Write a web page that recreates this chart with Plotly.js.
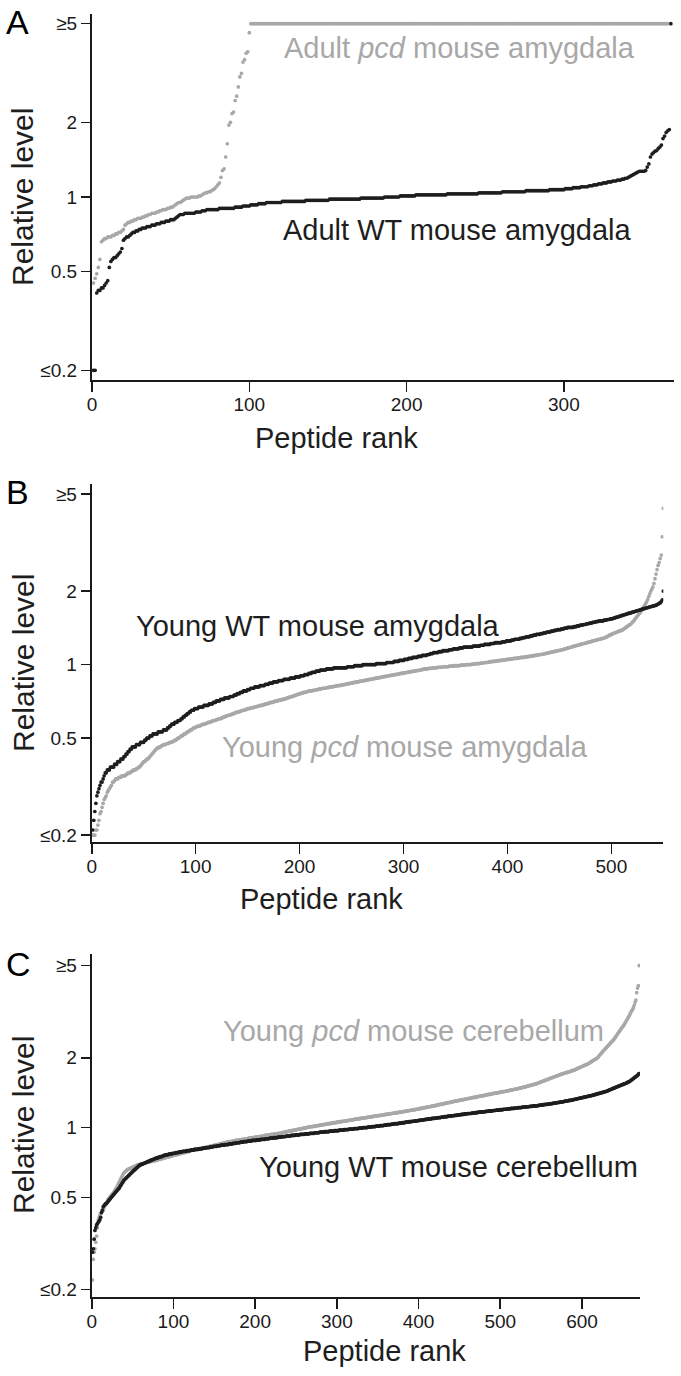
<!DOCTYPE html>
<html>
<head>
<meta charset="utf-8">
<script src="https://cdn.plot.ly/plotly-3.0.1.min.js"></script>
<style>html,body{margin:0;padding:0;background:#fff;}#chart{width:681px;height:1376px;}</style>
</head>
<body>
<div id="chart"></div>
<script>
// ---------- Panel A: adult amygdala (relative level, sorted by peptide rank) ----------
const adultWT = [
0.2,0.2,0.41,0.42,0.42,0.43,0.43,0.44,0.45,0.46,
0.52,0.55,0.56,0.57,0.57,0.58,0.59,0.60,0.62,0.67,
0.68,0.69,0.69,0.70,0.71,0.72,0.72,0.73,0.73,0.74,
0.74,0.75,0.75,0.75,0.76,0.76,0.76,0.77,0.77,0.77,
0.78,0.78,0.78,0.79,0.79,0.79,0.80,0.80,0.80,0.81,
0.81,0.81,0.82,0.83,0.84,0.85,0.85,0.85,0.86,0.86,
0.86,0.86,0.86,0.86,0.86,0.87,0.87,0.87,0.87,0.88,
0.88,0.88,0.89,0.89,0.89,0.89,0.89,0.89,0.89,0.89,
0.90,0.90,0.90,0.90,0.90,0.90,0.90,0.90,0.90,0.90,
0.91,0.91,0.91,0.91,0.91,0.92,0.92,0.92,0.92,0.92,
0.93,0.93,0.93,0.93,0.93,0.94,0.94,0.94,0.94,0.94,
0.95,0.95,0.95,0.95,0.95,0.95,0.95,0.95,0.95,0.95,
0.96,0.96,0.96,0.96,0.96,0.96,0.96,0.96,0.96,0.96,
0.96,0.96,0.96,0.96,0.96,0.97,0.97,0.97,0.97,0.97,
0.97,0.97,0.97,0.97,0.97,0.97,0.97,0.97,0.97,0.97,
0.98,0.98,0.98,0.98,0.98,0.98,0.98,0.98,0.98,0.98,
0.98,0.98,0.98,0.98,0.98,0.98,0.98,0.98,0.98,0.98,
0.99,0.99,0.99,0.99,0.99,0.99,0.99,0.99,0.99,0.99,
0.99,0.99,0.99,0.99,0.99,1.00,1.00,1.00,1.00,1.00,
1.00,1.00,1.00,1.00,1.00,1.01,1.01,1.01,1.01,1.01,
1.01,1.01,1.01,1.01,1.01,1.02,1.02,1.02,1.02,1.02,
1.02,1.02,1.02,1.02,1.02,1.02,1.02,1.02,1.02,1.02,
1.02,1.02,1.02,1.02,1.02,1.03,1.03,1.03,1.03,1.03,
1.03,1.03,1.03,1.03,1.03,1.03,1.03,1.03,1.03,1.03,
1.03,1.03,1.03,1.03,1.03,1.04,1.04,1.04,1.04,1.04,
1.04,1.04,1.04,1.04,1.04,1.04,1.04,1.04,1.04,1.04,
1.05,1.05,1.05,1.05,1.05,1.05,1.05,1.05,1.05,1.05,
1.05,1.05,1.05,1.05,1.05,1.06,1.06,1.06,1.06,1.06,
1.06,1.06,1.06,1.06,1.06,1.06,1.06,1.06,1.06,1.06,
1.07,1.07,1.07,1.07,1.07,1.07,1.07,1.07,1.07,1.07,
1.08,1.08,1.08,1.08,1.08,1.09,1.09,1.09,1.09,1.09,
1.10,1.10,1.10,1.10,1.10,1.11,1.11,1.11,1.12,1.12,
1.12,1.13,1.13,1.13,1.14,1.14,1.14,1.15,1.15,1.15,
1.16,1.16,1.16,1.17,1.17,1.17,1.18,1.18,1.19,1.19,
1.20,1.21,1.22,1.23,1.24,1.25,1.26,1.27,1.27,1.27,
1.27,1.28,1.32,1.36,1.45,1.49,1.51,1.53,1.54,1.57,
1.59,1.62,1.72,1.76,1.82,1.85,1.87,5
];
const adultPcd = [
0.45,0.47,0.49,0.52,0.56,0.66,0.67,0.68,0.68,0.69,
0.69,0.69,0.70,0.70,0.71,0.71,0.72,0.72,0.73,0.74,
0.77,0.78,0.79,0.79,0.80,0.80,0.81,0.81,0.82,0.82,
0.82,0.83,0.83,0.84,0.84,0.85,0.85,0.86,0.86,0.86,
0.87,0.87,0.88,0.88,0.89,0.89,0.89,0.90,0.90,0.91,
0.91,0.92,0.93,0.94,0.95,0.95,0.96,0.97,0.98,0.99,
0.99,0.99,1.00,1.00,1.00,1.00,1.00,1.01,1.01,1.02,
1.03,1.04,1.04,1.05,1.05,1.06,1.07,1.08,1.10,1.12,
1.14,1.20,1.28,1.30,1.45,1.64,1.95,2.00,2.17,2.20,
2.45,2.55,2.78,3.05,3.15,3.50,3.58,3.80,3.85,4.60,
5,5,5,5,5,5,5,5,5,5, 5,5,5,5,5,5,5,5,5,5, 5,5,5,5,5,5,5,5,5,5,
5,5,5,5,5,5,5,5,5,5, 5,5,5,5,5,5,5,5,5,5, 5,5,5,5,5,5,5,5,5,5,
5,5,5,5,5,5,5,5,5,5, 5,5,5,5,5,5,5,5,5,5, 5,5,5,5,5,5,5,5,5,5,
5,5,5,5,5,5,5,5,5,5, 5,5,5,5,5,5,5,5,5,5, 5,5,5,5,5,5,5,5,5,5,
5,5,5,5,5,5,5,5,5,5, 5,5,5,5,5,5,5,5,5,5, 5,5,5,5,5,5,5,5,5,5,
5,5,5,5,5,5,5,5,5,5, 5,5,5,5,5,5,5,5,5,5, 5,5,5,5,5,5,5,5,5,5,
5,5,5,5,5,5,5,5,5,5, 5,5,5,5,5,5,5,5,5,5, 5,5,5,5,5,5,5,5,5,5,
5,5,5,5,5,5,5,5,5,5, 5,5,5,5,5,5,5,5,5,5, 5,5,5,5,5,5,5,5,5,5,
5,5,5,5,5,5,5,5,5,5, 5,5,5,5,5,5,5,5,5,5,
5,5,5,5,5,5
];

// ---------- Panel B: young amygdala ----------
const youngWTAmy = [
0.21,0.23,0.25,0.27,0.29,0.30,0.31,0.32,0.33,0.33,
0.34,0.35,0.36,0.36,0.37,0.37,0.37,0.38,0.38,0.38,
0.38,0.39,0.39,0.39,0.40,0.40,0.40,0.41,0.41,0.41,
0.42,0.42,0.43,0.43,0.44,0.44,0.45,0.45,0.46,0.46,
0.46,0.46,0.47,0.47,0.47,0.47,0.48,0.48,0.48,0.48,
0.49,0.49,0.50,0.50,0.50,0.51,0.51,0.51,0.52,0.52,
0.52,0.52,0.52,0.53,0.53,0.53,0.53,0.53,0.54,0.54,
0.54,0.54,0.55,0.55,0.56,0.56,0.57,0.57,0.57,0.58,
0.58,0.58,0.59,0.59,0.59,0.60,0.60,0.61,0.61,0.62,
0.62,0.63,0.63,0.64,0.64,0.65,0.65,0.65,0.66,0.66,
0.66,0.66,0.67,0.67,0.67,0.67,0.67,0.68,0.68,0.68,
0.68,0.68,0.69,0.69,0.69,0.69,0.70,0.70,0.70,0.71,
0.71,0.71,0.71,0.72,0.72,0.72,0.72,0.73,0.73,0.73,
0.73,0.73,0.74,0.74,0.74,0.74,0.75,0.75,0.75,0.76,
0.76,0.76,0.77,0.77,0.77,0.78,0.78,0.78,0.78,0.79,
0.79,0.79,0.80,0.80,0.80,0.80,0.81,0.81,0.81,0.81,
0.81,0.82,0.82,0.82,0.82,0.82,0.83,0.83,0.83,0.83,
0.84,0.84,0.84,0.84,0.85,0.85,0.85,0.85,0.85,0.86,
0.86,0.86,0.86,0.86,0.87,0.87,0.87,0.87,0.87,0.87,
0.88,0.88,0.88,0.88,0.88,0.89,0.89,0.89,0.89,0.89,
0.90,0.90,0.90,0.90,0.91,0.91,0.91,0.91,0.92,0.92,
0.92,0.93,0.93,0.93,0.93,0.94,0.94,0.94,0.94,0.95,
0.95,0.95,0.95,0.95,0.95,0.96,0.96,0.96,0.96,0.96,
0.96,0.96,0.97,0.97,0.97,0.97,0.97,0.97,0.97,0.97,
0.97,0.97,0.97,0.97,0.97,0.98,0.98,0.98,0.98,0.98,
0.98,0.98,0.99,0.99,0.99,0.99,0.99,0.99,0.99,0.99,
1.00,1.00,1.00,1.00,1.00,1.00,1.00,1.00,1.00,1.00,
1.00,1.00,1.00,1.01,1.01,1.01,1.01,1.01,1.01,1.01,
1.01,1.01,1.01,1.02,1.02,1.02,1.02,1.02,1.02,1.02,
1.03,1.03,1.03,1.03,1.03,1.04,1.04,1.04,1.04,1.04,
1.05,1.05,1.05,1.05,1.06,1.06,1.06,1.06,1.07,1.07,
1.07,1.07,1.07,1.08,1.08,1.08,1.08,1.09,1.09,1.09,
1.09,1.09,1.10,1.10,1.10,1.11,1.11,1.11,1.12,1.12,
1.12,1.12,1.12,1.13,1.13,1.13,1.13,1.14,1.14,1.14,
1.14,1.14,1.14,1.15,1.15,1.15,1.15,1.16,1.16,1.16,
1.16,1.16,1.16,1.17,1.17,1.17,1.17,1.18,1.18,1.18,
1.18,1.18,1.18,1.18,1.18,1.18,1.19,1.19,1.19,1.19,
1.19,1.19,1.19,1.20,1.20,1.20,1.20,1.21,1.21,1.21,
1.21,1.21,1.21,1.22,1.22,1.22,1.22,1.23,1.23,1.23,
1.23,1.23,1.23,1.23,1.24,1.24,1.24,1.24,1.25,1.25,
1.25,1.25,1.25,1.26,1.26,1.26,1.27,1.27,1.27,1.27,
1.27,1.28,1.28,1.28,1.29,1.29,1.29,1.30,1.30,1.30,
1.30,1.31,1.31,1.31,1.32,1.32,1.32,1.33,1.33,1.33,
1.33,1.34,1.34,1.34,1.35,1.35,1.35,1.36,1.36,1.36,
1.36,1.37,1.37,1.37,1.38,1.38,1.38,1.39,1.39,1.39,
1.39,1.40,1.40,1.40,1.41,1.41,1.41,1.42,1.42,1.42,
1.42,1.42,1.42,1.43,1.43,1.43,1.44,1.44,1.44,1.45,
1.45,1.45,1.46,1.46,1.46,1.47,1.47,1.47,1.48,1.48,
1.48,1.49,1.49,1.49,1.50,1.50,1.50,1.51,1.51,1.51,
1.51,1.51,1.52,1.52,1.52,1.53,1.53,1.53,1.54,1.54,
1.54,1.55,1.55,1.56,1.56,1.57,1.57,1.58,1.58,1.59,
1.59,1.60,1.60,1.61,1.61,1.62,1.62,1.63,1.63,1.64,
1.64,1.65,1.65,1.66,1.66,1.67,1.67,1.68,1.68,1.69,
1.69,1.70,1.70,1.71,1.71,1.72,1.72,1.73,1.73,1.74,
1.74,1.75,1.75,1.76,1.77,1.78,1.79,1.81,1.84,2.00
];
const youngPcdAmy = [
0.20,0.20,0.20,0.21,0.21,0.22,0.23,0.245,0.25,0.26,
0.27,0.28,0.285,0.29,0.30,0.305,0.31,0.315,0.32,0.33,
0.33,0.335,0.34,0.34,0.34,0.345,0.345,0.345,0.35,0.35,
0.35,0.35,0.355,0.355,0.36,0.36,0.36,0.365,0.365,0.37,
0.37,0.37,0.375,0.375,0.38,0.38,0.385,0.39,0.395,0.40,
0.40,0.405,0.41,0.41,0.415,0.42,0.425,0.43,0.435,0.44,
0.445,0.45,0.455,0.455,0.46,0.46,0.465,0.465,0.47,0.47,
0.47,0.475,0.475,0.475,0.48,0.48,0.48,0.485,0.485,0.49,
0.49,0.495,0.50,0.50,0.505,0.51,0.51,0.515,0.52,0.52,
0.525,0.53,0.53,0.535,0.54,0.54,0.545,0.55,0.55,0.555,
0.555,0.56,0.56,0.56,0.565,0.565,0.57,0.57,0.57,0.575,
0.575,0.58,0.58,0.58,0.585,0.585,0.59,0.59,0.59,0.595,
0.595,0.60,0.60,0.60,0.605,0.605,0.61,0.61,0.615,0.615,
0.62,0.62,0.62,0.625,0.625,0.63,0.63,0.635,0.635,0.64,
0.64,0.64,0.645,0.645,0.65,0.65,0.65,0.655,0.655,0.66,
0.66,0.66,0.665,0.665,0.665,0.67,0.67,0.67,0.675,0.675,
0.675,0.68,0.68,0.68,0.685,0.685,0.69,0.69,0.69,0.695,
0.695,0.70,0.70,0.70,0.705,0.705,0.71,0.71,0.71,0.715,
0.715,0.715,0.72,0.72,0.72,0.725,0.725,0.73,0.73,0.735,
0.735,0.74,0.74,0.745,0.745,0.75,0.75,0.755,0.755,0.76,
0.76,0.765,0.765,0.77,0.77,0.77,0.775,0.775,0.78,0.78,
0.78,0.78,0.785,0.785,0.785,0.79,0.79,0.79,0.795,0.795,
0.795,0.80,0.80,0.80,0.80,0.805,0.805,0.805,0.81,0.81,
0.81,0.81,0.815,0.815,0.815,0.82,0.82,0.82,0.82,0.825,
0.825,0.825,0.83,0.83,0.83,0.835,0.835,0.835,0.84,0.84,
0.84,0.845,0.845,0.845,0.85,0.85,0.85,0.855,0.855,0.855,
0.86,0.86,0.86,0.865,0.865,0.865,0.87,0.87,0.87,0.875,
0.875,0.875,0.88,0.88,0.88,0.885,0.885,0.885,0.89,0.89,
0.89,0.895,0.895,0.895,0.90,0.90,0.90,0.905,0.905,0.905,
0.91,0.91,0.91,0.915,0.915,0.915,0.92,0.92,0.92,0.925,
0.925,0.925,0.93,0.93,0.93,0.935,0.935,0.935,0.94,0.94,
0.94,0.945,0.945,0.945,0.95,0.95,0.95,0.955,0.955,0.96,
0.96,0.96,0.96,0.965,0.965,0.965,0.965,0.97,0.97,0.97,
0.97,0.97,0.975,0.975,0.975,0.975,0.975,0.98,0.98,0.98,
0.98,0.98,0.98,0.985,0.985,0.985,0.985,0.985,0.99,0.99,
0.99,0.99,0.99,0.99,0.995,0.995,0.995,0.995,0.995,1.00,
1.00,1.00,1.00,1.00,1.00,1.005,1.005,1.005,1.005,1.01,
1.01,1.01,1.01,1.015,1.015,1.015,1.015,1.02,1.02,1.02,
1.02,1.025,1.025,1.025,1.03,1.03,1.03,1.03,1.035,1.035,
1.035,1.04,1.04,1.04,1.04,1.045,1.045,1.045,1.05,1.05,
1.05,1.05,1.055,1.055,1.055,1.06,1.06,1.06,1.06,1.065,
1.065,1.065,1.07,1.07,1.07,1.07,1.075,1.075,1.075,1.08,
1.08,1.08,1.085,1.085,1.085,1.09,1.09,1.09,1.095,1.095,
1.10,1.10,1.10,1.105,1.105,1.11,1.11,1.115,1.115,1.12,
1.12,1.125,1.125,1.13,1.13,1.135,1.135,1.14,1.14,1.145,
1.145,1.15,1.15,1.155,1.16,1.16,1.165,1.17,1.17,1.175,
1.18,1.18,1.185,1.19,1.19,1.195,1.20,1.20,1.205,1.21,
1.21,1.215,1.22,1.22,1.225,1.23,1.23,1.235,1.24,1.24,
1.245,1.25,1.25,1.255,1.26,1.26,1.265,1.27,1.27,1.275,
1.28,1.28,1.285,1.29,1.30,1.30,1.31,1.32,1.32,1.33,
1.34,1.34,1.35,1.35,1.36,1.36,1.37,1.37,1.38,1.38,
1.39,1.40,1.41,1.42,1.43,1.44,1.45,1.46,1.47,1.49,
1.50,1.52,1.54,1.56,1.58,1.60,1.62,1.64,1.66,1.69,
1.72,1.75,1.78,1.81,1.85,1.90,1.95,2.00,2.04,2.08,
2.15,2.25,2.35,2.45,2.55,2.62,2.72,2.81,3.34,4.37
];

// ---------- Panel C: young cerebellum ----------
const youngWTCb = [
0.29,0.30,0.33,0.36,0.37,0.38,0.385,0.39,0.395,0.40,
0.41,0.43,0.44,0.455,0.46,0.465,0.47,0.47,0.475,0.48,
0.485,0.49,0.495,0.50,0.505,0.51,0.515,0.52,0.525,0.53,
0.535,0.54,0.545,0.55,0.56,0.565,0.575,0.58,0.59,0.595,
0.60,0.605,0.61,0.615,0.62,0.625,0.63,0.635,0.64,0.645,
0.65,0.655,0.66,0.665,0.67,0.675,0.68,0.685,0.69,0.69,
0.695,0.695,0.70,0.70,0.705,0.705,0.71,0.71,0.715,0.715,
0.72,0.72,0.725,0.725,0.73,0.73,0.735,0.735,0.74,0.74,
0.74,0.745,0.745,0.75,0.75,0.75,0.755,0.755,0.76,0.76,
0.76,0.765,0.765,0.765,0.77,0.77,0.77,0.77,0.775,0.775,
0.775,0.775,0.78,0.78,0.78,0.78,0.785,0.785,0.785,0.785,
0.79,0.79,0.79,0.79,0.79,0.795,0.795,0.795,0.795,0.795,
0.80,0.80,0.80,0.80,0.80,0.805,0.805,0.805,0.805,0.805,
0.81,0.81,0.81,0.81,0.81,0.815,0.815,0.815,0.815,0.82,
0.82,0.82,0.82,0.82,0.825,0.825,0.825,0.825,0.83,0.83,
0.83,0.83,0.83,0.835,0.835,0.835,0.835,0.84,0.84,0.84,
0.84,0.84,0.845,0.845,0.845,0.845,0.845,0.85,0.85,0.85,
0.85,0.85,0.855,0.855,0.855,0.855,0.86,0.86,0.86,0.86,
0.86,0.865,0.865,0.865,0.865,0.87,0.87,0.87,0.87,0.87,
0.875,0.875,0.875,0.875,0.875,0.88,0.88,0.88,0.88,0.88,
0.88,0.885,0.885,0.885,0.885,0.885,0.89,0.89,0.89,0.89,
0.89,0.89,0.895,0.895,0.895,0.895,0.895,0.90,0.90,0.90,
0.90,0.90,0.905,0.905,0.905,0.905,0.905,0.91,0.91,0.91,
0.91,0.91,0.915,0.915,0.915,0.915,0.915,0.92,0.92,0.92,
0.92,0.92,0.92,0.925,0.925,0.925,0.925,0.925,0.93,0.93,
0.93,0.93,0.93,0.93,0.935,0.935,0.935,0.935,0.935,0.935,
0.94,0.94,0.94,0.94,0.94,0.94,0.945,0.945,0.945,0.945,
0.945,0.945,0.95,0.95,0.95,0.95,0.95,0.95,0.955,0.955,
0.955,0.955,0.955,0.955,0.96,0.96,0.96,0.96,0.96,0.96,
0.965,0.965,0.965,0.965,0.965,0.965,0.97,0.97,0.97,0.97,
0.97,0.97,0.975,0.975,0.975,0.975,0.975,0.975,0.98,0.98,
0.98,0.98,0.98,0.98,0.985,0.985,0.985,0.985,0.985,0.985,
0.99,0.99,0.99,0.99,0.99,0.99,0.995,0.995,0.995,0.995,
0.995,1.00,1.00,1.00,1.00,1.00,1.00,1.005,1.005,1.005,
1.005,1.005,1.01,1.01,1.01,1.01,1.01,1.015,1.015,1.015,
1.015,1.015,1.02,1.02,1.02,1.02,1.02,1.025,1.025,1.025,
1.025,1.03,1.03,1.03,1.03,1.03,1.035,1.035,1.035,1.035,
1.04,1.04,1.04,1.04,1.04,1.045,1.045,1.045,1.045,1.05,
1.05,1.05,1.05,1.055,1.055,1.055,1.055,1.06,1.06,1.06,
1.06,1.065,1.065,1.065,1.065,1.07,1.07,1.07,1.07,1.075,
1.075,1.075,1.075,1.08,1.08,1.08,1.08,1.085,1.085,1.085,
1.085,1.09,1.09,1.09,1.09,1.095,1.095,1.095,1.095,1.10,
1.10,1.10,1.10,1.105,1.105,1.105,1.105,1.11,1.11,1.11,
1.11,1.115,1.115,1.115,1.115,1.12,1.12,1.12,1.12,1.125,
1.125,1.125,1.125,1.13,1.13,1.13,1.13,1.135,1.135,1.135,
1.135,1.14,1.14,1.14,1.14,1.145,1.145,1.145,1.145,1.15,
1.15,1.15,1.15,1.15,1.155,1.155,1.155,1.155,1.16,1.16,
1.16,1.16,1.165,1.165,1.165,1.165,1.17,1.17,1.17,1.17,
1.17,1.175,1.175,1.175,1.175,1.18,1.18,1.18,1.18,1.18,
1.185,1.185,1.185,1.185,1.19,1.19,1.19,1.19,1.19,1.195,
1.195,1.195,1.195,1.20,1.20,1.20,1.20,1.20,1.205,1.205,
1.205,1.205,1.21,1.21,1.21,1.21,1.21,1.215,1.215,1.215,
1.215,1.22,1.22,1.22,1.22,1.22,1.225,1.225,1.225,1.225,
1.23,1.23,1.23,1.23,1.23,1.235,1.235,1.235,1.235,1.24,
1.24,1.24,1.24,1.24,1.245,1.245,1.245,1.25,1.25,1.25,
1.25,1.255,1.255,1.255,1.26,1.26,1.26,1.26,1.265,1.265,
1.265,1.27,1.27,1.27,1.275,1.275,1.275,1.28,1.28,1.28,
1.285,1.285,1.285,1.29,1.29,1.29,1.295,1.295,1.30,1.30,
1.30,1.305,1.305,1.31,1.31,1.31,1.315,1.315,1.32,1.32,
1.325,1.325,1.33,1.33,1.335,1.335,1.34,1.34,1.345,1.345,
1.35,1.35,1.355,1.355,1.36,1.36,1.365,1.365,1.37,1.37,
1.375,1.375,1.38,1.38,1.385,1.39,1.39,1.395,1.40,1.40,
1.405,1.41,1.41,1.415,1.42,1.42,1.425,1.43,1.43,1.435,
1.44,1.445,1.45,1.455,1.46,1.465,1.47,1.475,1.48,1.485,
1.49,1.495,1.50,1.505,1.51,1.515,1.52,1.525,1.53,1.535,
1.54,1.545,1.55,1.555,1.56,1.57,1.575,1.58,1.59,1.60,
1.61,1.62,1.63,1.64,1.65,1.66,1.67,1.68,1.70,1.71
];
const youngPcdCb = [
0.22,0.27,0.29,0.30,0.32,0.34,0.37,0.40,0.41,0.42,
0.425,0.43,0.435,0.44,0.45,0.46,0.465,0.47,0.48,0.49,
0.495,0.50,0.505,0.51,0.515,0.52,0.525,0.535,0.54,0.55,
0.555,0.565,0.575,0.585,0.595,0.605,0.615,0.625,0.635,0.64,
0.645,0.65,0.655,0.66,0.66,0.665,0.665,0.67,0.67,0.675,
0.675,0.68,0.68,0.685,0.685,0.69,0.69,0.69,0.695,0.695,
0.695,0.70,0.70,0.70,0.705,0.705,0.705,0.71,0.71,0.71,
0.71,0.715,0.715,0.715,0.72,0.72,0.72,0.72,0.725,0.725,
0.725,0.73,0.73,0.73,0.735,0.735,0.735,0.74,0.74,0.74,
0.745,0.745,0.745,0.75,0.75,0.75,0.755,0.755,0.755,0.76,
0.76,0.76,0.765,0.765,0.765,0.77,0.77,0.77,0.775,0.775,
0.775,0.78,0.78,0.78,0.785,0.785,0.785,0.79,0.79,0.79,
0.80,0.80,0.80,0.80,0.805,0.805,0.805,0.805,0.81,0.81,
0.81,0.81,0.815,0.815,0.815,0.815,0.82,0.82,0.82,0.82,
0.825,0.825,0.825,0.83,0.83,0.83,0.835,0.835,0.835,0.84,
0.84,0.84,0.845,0.845,0.845,0.85,0.85,0.85,0.855,0.855,
0.855,0.86,0.86,0.86,0.865,0.865,0.865,0.87,0.87,0.87,
0.87,0.875,0.875,0.875,0.875,0.88,0.88,0.88,0.88,0.885,
0.885,0.885,0.885,0.89,0.89,0.89,0.89,0.895,0.895,0.895,
0.895,0.90,0.90,0.90,0.90,0.905,0.905,0.905,0.905,0.91,
0.91,0.91,0.91,0.915,0.915,0.915,0.915,0.92,0.92,0.92,
0.92,0.925,0.925,0.925,0.925,0.93,0.93,0.93,0.93,0.935,
0.935,0.935,0.935,0.94,0.94,0.94,0.94,0.945,0.945,0.945,
0.945,0.95,0.95,0.95,0.955,0.955,0.955,0.96,0.96,0.96,
0.965,0.965,0.965,0.97,0.97,0.97,0.975,0.975,0.975,0.98,
0.98,0.98,0.985,0.985,0.985,0.99,0.99,0.99,0.995,0.995,
0.995,1.00,1.00,1.00,1.005,1.005,1.005,1.01,1.01,1.01,
1.01,1.015,1.015,1.015,1.02,1.02,1.02,1.02,1.025,1.025,
1.025,1.03,1.03,1.03,1.03,1.035,1.035,1.035,1.04,1.04,
1.04,1.04,1.045,1.045,1.045,1.05,1.05,1.05,1.05,1.055,
1.055,1.055,1.06,1.06,1.06,1.06,1.065,1.065,1.065,1.07,
1.07,1.07,1.07,1.075,1.075,1.075,1.08,1.08,1.08,1.08,
1.085,1.085,1.085,1.09,1.09,1.09,1.09,1.095,1.095,1.095,
1.10,1.10,1.10,1.10,1.105,1.105,1.105,1.11,1.11,1.11,
1.11,1.115,1.115,1.115,1.12,1.12,1.12,1.12,1.125,1.125,
1.125,1.13,1.13,1.13,1.13,1.135,1.135,1.135,1.14,1.14,
1.14,1.14,1.145,1.145,1.145,1.15,1.15,1.15,1.155,1.155,
1.155,1.16,1.16,1.16,1.16,1.165,1.165,1.165,1.17,1.17,
1.17,1.175,1.175,1.175,1.18,1.18,1.18,1.185,1.185,1.185,
1.19,1.19,1.19,1.195,1.195,1.195,1.20,1.20,1.20,1.205,
1.205,1.21,1.21,1.21,1.215,1.215,1.22,1.22,1.22,1.225,
1.225,1.23,1.23,1.23,1.235,1.235,1.24,1.24,1.24,1.245,
1.245,1.25,1.25,1.255,1.255,1.26,1.26,1.26,1.265,1.265,
1.27,1.27,1.275,1.275,1.28,1.28,1.28,1.285,1.285,1.29,
1.29,1.295,1.295,1.30,1.30,1.30,1.305,1.305,1.31,1.31,
1.315,1.315,1.32,1.32,1.32,1.325,1.325,1.33,1.33,1.335,
1.335,1.335,1.34,1.34,1.345,1.345,1.35,1.35,1.35,1.355,
1.355,1.36,1.36,1.365,1.365,1.37,1.37,1.37,1.375,1.375,
1.38,1.38,1.385,1.385,1.39,1.39,1.39,1.395,1.395,1.40,
1.40,1.405,1.405,1.41,1.41,1.41,1.415,1.415,1.42,1.42,
1.425,1.425,1.43,1.43,1.43,1.435,1.435,1.44,1.44,1.445,
1.445,1.45,1.45,1.455,1.455,1.46,1.46,1.465,1.465,1.47,
1.47,1.475,1.475,1.48,1.485,1.485,1.49,1.49,1.495,1.50,
1.50,1.505,1.51,1.51,1.515,1.52,1.52,1.525,1.53,1.53,
1.535,1.54,1.54,1.545,1.55,1.555,1.56,1.565,1.57,1.575,
1.58,1.585,1.59,1.595,1.60,1.605,1.61,1.615,1.62,1.625,
1.63,1.635,1.64,1.645,1.65,1.655,1.66,1.665,1.67,1.675,
1.68,1.685,1.69,1.695,1.70,1.705,1.71,1.715,1.72,1.725,
1.725,1.73,1.735,1.74,1.745,1.75,1.755,1.76,1.765,1.77,
1.775,1.78,1.79,1.795,1.80,1.81,1.815,1.82,1.83,1.835,
1.84,1.85,1.855,1.86,1.87,1.875,1.88,1.89,1.90,1.91,
1.92,1.93,1.94,1.95,1.96,1.97,1.98,1.99,2.00,2.02,
2.04,2.06,2.08,2.10,2.12,2.14,2.16,2.18,2.20,2.22,
2.24,2.26,2.28,2.30,2.32,2.34,2.36,2.38,2.40,2.43,
2.46,2.49,2.52,2.55,2.58,2.61,2.64,2.67,2.70,2.73,
2.76,2.80,2.84,2.88,2.92,2.96,3.00,3.05,3.10,3.15,
3.20,3.24,3.30,3.38,3.48,3.55,3.82,4.00,4.10,5.00
];

// ---------- ticks and labels ----------
const yTickVals = [0.2, 0.5, 1, 2, 5];
const yTickText = ['≤0.2', '0.5', '1', '2', '≥5'];
const xTicksA = [0, 100, 200, 300];
const xTicksB = [0, 100, 200, 300, 400, 500];
const xTicksC = [0, 100, 200, 300, 400, 500, 600];
const panelLetters = ['A', 'B', 'C'];
const seriesLabels = [
  'Adult <i>pcd</i> mouse amygdala', 'Adult WT mouse amygdala',
  'Young WT mouse amygdala', 'Young <i>pcd</i> mouse amygdala',
  'Young <i>pcd</i> mouse cerebellum', 'Young WT mouse cerebellum'
];
const yTitle = 'Relative level';
const xTitle = 'Peptide rank';

// ---------- drawing ----------
const W = 681, H = 1376;
const BLACK = '#1e1e1e', GRAY = '#a8a8a8', AXIS = '#1a1a1a';
const FONT = 'Liberation Sans, Arial, Helvetica, sans-serif';
const px = v => v / W, py = v => 1 - v / H;
const ranks = arr => arr.map((_, i) => i + 1);

function pts(arr, color, xa, ya) {
  return { type: 'scatter', mode: 'markers', x: ranks(arr), y: arr, xaxis: xa, yaxis: ya,
    marker: { color: color, size: 3.7, line: { width: 0 } }, hoverinfo: 'x+y', showlegend: false };
}

const data = [
  pts(adultPcd, GRAY, 'x', 'y'), pts(adultWT, BLACK, 'x', 'y'),
  pts(youngPcdAmy, GRAY, 'x2', 'y2'), pts(youngWTAmy, BLACK, 'x2', 'y2'),
  pts(youngPcdCb, GRAY, 'x3', 'y3'), pts(youngWTCb, BLACK, 'x3', 'y3')
];

function xax(dom, yfrom, rng, tv) {
  return { domain: dom, anchor: yfrom, range: rng, tickvals: tv, ticktext: tv.map(String),
    showgrid: false, zeroline: false, showline: true, linecolor: AXIS, linewidth: 2,
    ticks: 'outside', ticklen: 10, tickwidth: 1.6, tickcolor: AXIS, ticklabelstandoff: -4,
    tickfont: { family: FONT, size: 19, color: AXIS }, fixedrange: true };
}
function yax(dom, xfrom, rng) {
  return { domain: dom, anchor: xfrom, type: 'log', range: rng, tickvals: yTickVals, ticktext: yTickText,
    showgrid: false, zeroline: false, showline: true, linecolor: AXIS, linewidth: 2,
    ticks: 'outside', ticklen: 9, tickwidth: 1.6, tickcolor: AXIS,
    tickfont: { family: FONT, size: 19, color: AXIS }, fixedrange: true };
}

function ann(text, x, y, size, color, opts) {
  return Object.assign({ text: text, xref: 'paper', yref: 'paper', x: px(x), y: py(y),
    xanchor: 'left', yanchor: 'middle', showarrow: false,
    font: { family: FONT, size: size, color: color } }, opts || {});
}

const annotations = [
  ann(panelLetters[0], 4, 22, 34, '#000'),
  ann(panelLetters[1], 4, 492, 34, '#000'),
  ann(panelLetters[2], 4, 964, 34, '#000'),
  ann(seriesLabels[0], 282, 48.5, 29, GRAY),
  ann(seriesLabels[1], 281, 229.5, 29, BLACK),
  ann(seriesLabels[2], 134, 625.5, 29, BLACK),
  ann(seriesLabels[3], 220, 747, 29, GRAY),
  ann(seriesLabels[4], 221, 1030.5, 29, GRAY),
  ann(seriesLabels[5], 257, 1166.5, 29, BLACK),
  ann(yTitle, 23, 197, 30, BLACK, { xanchor: 'center', textangle: -90 }),
  ann(yTitle, 23, 663, 30, BLACK, { xanchor: 'center', textangle: -90 }),
  ann(yTitle, 23, 1125, 30, BLACK, { xanchor: 'center', textangle: -90 }),
  ann(xTitle, 336, 438, 29, BLACK, { xanchor: 'center' }),
  ann(xTitle, 321, 899, 29, BLACK, { xanchor: 'center' }),
  ann(xTitle, 385, 1351, 29, BLACK, { xanchor: 'center' })
];

const layout = {
  width: W, height: H, margin: { l: 0, r: 0, t: 0, b: 0, pad: 0 },
  paper_bgcolor: '#fff', plot_bgcolor: '#fff', showlegend: false,
  font: { family: FONT, color: BLACK },
  xaxis:  xax([92 / W, 674 / W], 'y', [0, 370], xTicksA),
  yaxis:  yax([1 - 380 / H, 1 - 14 / H], 'x', [-0.738, 0.738]),
  xaxis2: xax([91.7 / W, 663.3 / W], 'y2', [0, 550], xTicksB),
  yaxis2: yax([1 - 842 / H, 1 - 484 / H], 'x2', [-0.727, 0.740]),
  xaxis3: xax([91.7 / W, 640 / W], 'y3', [0, 671], xTicksC),
  yaxis3: yax([1 - 1297 / H, 1 - 954 / H], 'x3', [-0.731, 0.749]),
  annotations: annotations
};

Plotly.newPlot('chart', data, layout, { displayModeBar: false, staticPlot: true });
</script>
</body>
</html>
